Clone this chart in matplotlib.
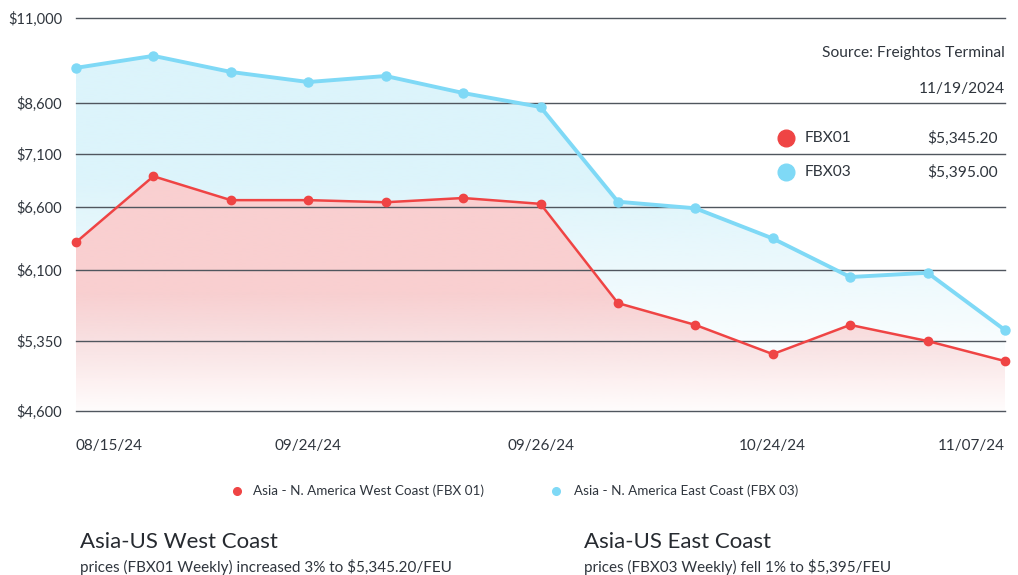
import matplotlib
matplotlib.use("Agg")
import matplotlib.pyplot as plt
from matplotlib.lines import Line2D
import numpy as np

# data
labels = ["08/15/24", "", "", "09/24/24", "", "", "09/26/24", "", "", "10/24/24", "", "", "11/07/24"]
fbx01 = [6320, 6890, 6665, 6665, 6645, 6685, 6630, 5750, 5520, 5210, 5520, 5350, 5135]
fbx03 = [9590, 9930, 9475, 9190, 9360, 8880, 8480, 6650, 6590, 6350, 6025, 6070, 5465]
ytick_vals = [4600, 5350, 6100, 6600, 7100, 8600, 11000]
ytick_pos = [0.0, 0.178, 0.359, 0.519, 0.654, 0.784, 1.0]
last01 = "$5,345.20"
last03 = "$5,395.00"

RED = "#ef4444"
BLUE = "#7fd9f6"
RED_FILL = "#f9cfd0"
BLUE_FILL = "#dcf4fb"
TXT = "#2f353d"

plt.rcParams["font.family"] = ["Lato", "DejaVu Sans"]

W, H = 1018, 575
fig = plt.figure(figsize=(W / 100, H / 100), dpi=100)

def fx(x):
    return x / W

def fy(y):
    return 1 - y / H

ax = fig.add_axes([fx(76), fy(411), fx(1005) - fx(76), fy(18) - fy(411)])

fwd = lambda v: np.interp(v, ytick_vals, ytick_pos)
inv = lambda p: np.interp(p, ytick_pos, ytick_vals)
ax.set_yscale("function", functions=(fwd, inv))
ax.set_ylim(4600, 11000)
x = np.arange(len(fbx01))
ax.set_xlim(0, len(x) - 1)

for s in ax.spines.values():
    s.set_visible(False)
ax.set_yticks(ytick_vals)
ax.set_yticklabels([f"${v:,}" for v in ytick_vals], fontsize=10.5, color=TXT)
ax.tick_params(axis="y", length=0, pad=10)
ax.set_xticks([])
for v in ytick_vals:
    ax.axhline(v, color="#50565e", lw=1.0, zorder=1, clip_on=False)


def grad_fill(ax, y, color, lo, hi, z):
    poly = ax.fill_between(x, y, 4600, color="none", lw=0)
    f = np.linspace(0, 1, 256)
    a = np.clip((f - lo) / (hi - lo), 0, 1)
    rgba = np.zeros((256, 1, 4))
    rgba[:, :, :3] = matplotlib.colors.to_rgb(color)
    rgba[:, 0, 3] = a
    im = ax.imshow(rgba, extent=[0, 1, 0, 1], transform=ax.transAxes,
                   origin="lower", aspect="auto", zorder=z, interpolation="bilinear")
    im.set_clip_path(poly.get_paths()[0], transform=ax.transData)


grad_fill(ax, fbx03, BLUE_FILL, 0.08, 0.6, 0.5)
grad_fill(ax, fbx01, RED_FILL, -0.02, 0.3, 0.6)

ax.plot(x, fbx03, color=BLUE, lw=2.8, marker="o", ms=6.5, zorder=3, clip_on=False)
ax.plot(x, fbx01, color=RED, lw=1.8, marker="o", ms=6, zorder=4, clip_on=False)

# x labels
xl = [(i, t) for i, t in enumerate(labels) if t]
for k, (i, t) in enumerate(xl):
    ha = "center"
    if k == 0:
        ha = "left"
    elif k == len(xl) - 1:
        ha = "right"
    ax.text(i, -0.09, t, transform=ax.get_xaxis_transform(), ha=ha, va="center",
            fontsize=11, color=TXT)

# top right info
fig.text(fx(1005), fy(53), "Source: Freightos Terminal", ha="right", va="center", fontsize=11.2, color=TXT)
fig.text(fx(1005), fy(89), "11/19/2024", ha="right", va="center", fontsize=11.2, color=TXT)
for yy, c, name, val in [(138, RED, "FBX01", last01), (172, BLUE, "FBX03", last03)]:
    fig.lines.append(Line2D([fx(786)], [fy(yy)], marker="o", ms=12, color=c,
                            linestyle="None", transform=fig.transFigure))
    fig.text(fx(805), fy(yy), name, ha="left", va="center", fontsize=11.2, color=TXT)
    fig.text(fx(998), fy(yy), val, ha="right", va="center", fontsize=11.2, color=TXT)

# bottom legend
for dx, tx, c, name in [(237, 253, RED, "Asia - N. America West Coast (FBX 01)"),
                        (556, 574, BLUE, "Asia - N. America East Coast (FBX 03)")]:
    fig.lines.append(Line2D([fx(dx)], [fy(491)], marker="o", ms=5.5, color=c,
                            linestyle="None", transform=fig.transFigure))
    fig.text(fx(tx), fy(491), name, ha="left", va="center", fontsize=9.7, color=TXT)

# captions
fig.text(fx(80), fy(542), "Asia-US West Coast", ha="left", va="center", fontsize=16, color="#262a30")
fig.text(fx(80), fy(567), "prices (FBX01 Weekly) increased 3% to $5,345.20/FEU", ha="left", va="center",
         fontsize=11, color=TXT)
fig.text(fx(584), fy(542), "Asia-US East Coast", ha="left", va="center", fontsize=16, color="#262a30")
fig.text(fx(584), fy(567), "prices (FBX03 Weekly) fell 1% to $5,395/FEU", ha="left", va="center",
         fontsize=11, color=TXT)

fig.savefig("out.png", dpi=100)
